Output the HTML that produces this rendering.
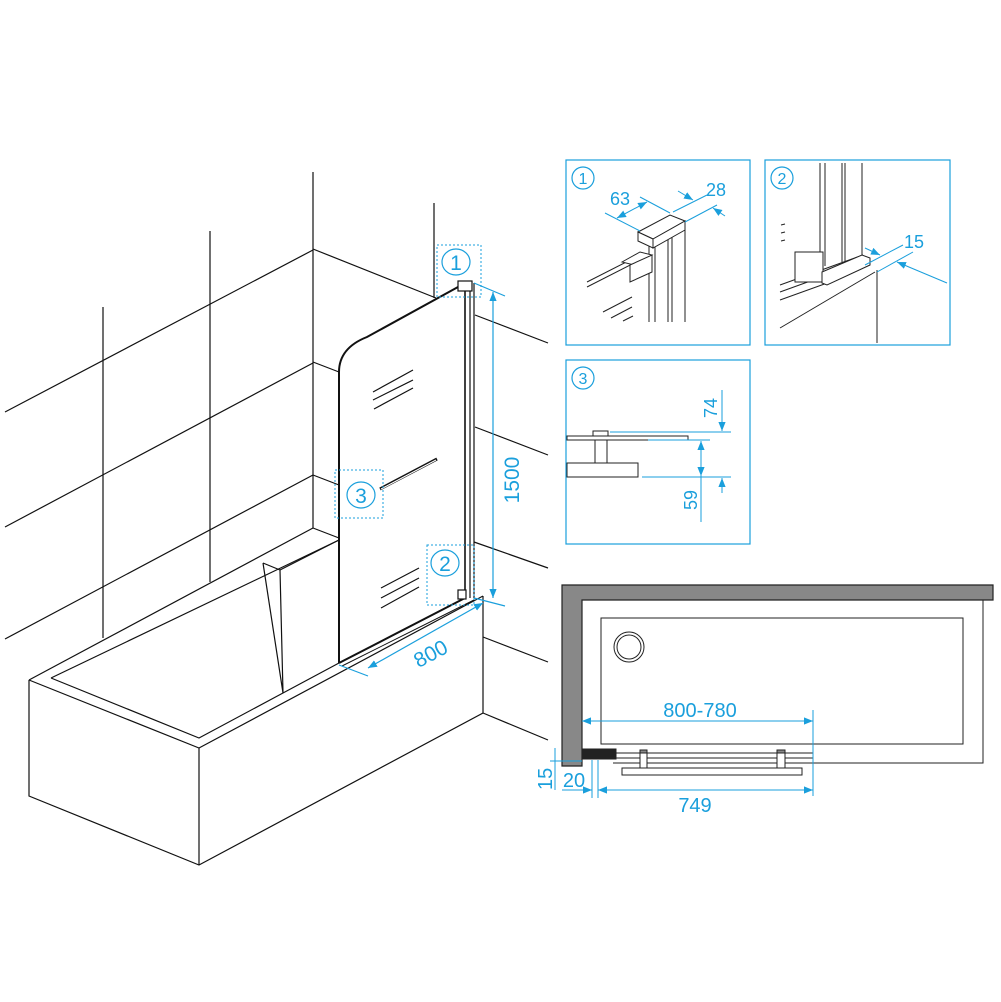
<!DOCTYPE html>
<html><head><meta charset="utf-8"><style>html,body{margin:0;padding:0;background:#fff}svg{display:block}</style></head><body>
<svg width="1001" height="1002" viewBox="0 0 1001 1002" xmlns="http://www.w3.org/2000/svg" font-family="Liberation Sans, sans-serif">
<defs>
<marker id="a" viewBox="0 0 10 10" refX="10" refY="5" markerWidth="9" markerHeight="9" orient="auto-start-reverse" markerUnits="userSpaceOnUse"><path d="M0,1 L10,5 L0,9 z" fill="#1a9fdc"/></marker>
</defs>
<g stroke="#111" stroke-width="1.2" fill="none">
<line x1="5" y1="412" x2="313" y2="250"/><line x1="5" y1="527" x2="313" y2="363"/><line x1="5" y1="639" x2="313" y2="475"/>
<line x1="103" y1="307" x2="103" y2="638"/><line x1="210" y1="231" x2="210" y2="582"/><line x1="313" y1="172" x2="313" y2="528"/><line x1="434" y1="203" x2="434" y2="298"/>
<line x1="313" y1="249" x2="436" y2="298"/><line x1="313" y1="362" x2="339" y2="372"/><line x1="313" y1="475" x2="339" y2="485"/>
<line x1="475" y1="315" x2="548" y2="343"/><line x1="475" y1="427" x2="548" y2="455"/><line x1="474" y1="542" x2="548" y2="568"/><line x1="483" y1="637" x2="548" y2="662"/><line x1="483" y1="713" x2="548" y2="740"/>
<polyline points="29,680 29,796 199,865 483,713 483,596"/>
<polyline points="29,680 199,748 483,596"/>
<line x1="199" y1="748" x2="199" y2="865"/>
<line x1="29" y1="680" x2="313" y2="528"/><line x1="313" y1="528" x2="339" y2="538"/>
<polyline points="51,678 199,738 283,693 339,663"/>
<line x1="51" y1="678" x2="339" y2="540"/>
<polyline points="263,563 283,693 280,570 263,563"/><line x1="280" y1="570" x2="339" y2="540"/>
<path d="M339,663 L339,372 Q339,348 367,337 L458,287" stroke-width="2"/>
<line x1="339" y1="663" x2="465" y2="598" stroke-width="2"/><line x1="342" y1="666" x2="474" y2="600" stroke-width="1"/>
<line x1="465" y1="283" x2="465" y2="598" stroke-width="1.6"/><line x1="470" y1="283" x2="470" y2="598"/><line x1="474" y1="283" x2="474" y2="598"/>
<rect x="458" y="281" width="14" height="10" fill="#fff"/>
<rect x="458" y="590" width="8" height="9" fill="#fff"/>
<line x1="373" y1="392" x2="413" y2="370"/><line x1="373" y1="400" x2="413" y2="380"/><line x1="374" y1="409" x2="413" y2="388"/>
<line x1="381" y1="588" x2="419" y2="568"/><line x1="381" y1="598" x2="419" y2="578"/><line x1="381" y1="608" x2="419" y2="587"/>
<line x1="380" y1="489" x2="437" y2="459" stroke-width="3"/><line x1="381" y1="489" x2="436" y2="460" stroke="#fff" stroke-width="1"/>
</g>
<g stroke="#1a9fdc" fill="none" stroke-width="1" stroke-dasharray="2,2">
<rect x="437" y="245" width="44" height="52"/><rect x="335" y="470" width="48" height="48"/><rect x="427" y="545" width="47" height="60"/>
</g>
<g stroke="#1a9fdc" fill="none" stroke-width="1.2">
<ellipse cx="456" cy="262" rx="14" ry="13"/><ellipse cx="361" cy="495" rx="14" ry="13"/><ellipse cx="445" cy="563" rx="14" ry="13"/>
<line x1="493" y1="292" x2="493" y2="598" marker-start="url(#a)" marker-end="url(#a)"/>
<line x1="474" y1="283" x2="505" y2="296"/><line x1="474" y1="598" x2="505" y2="606"/>
<line x1="368" y1="668" x2="483" y2="603" marker-start="url(#a)" marker-end="url(#a)"/>
<line x1="339" y1="665" x2="368" y2="676"/>
</g>
<g fill="#1a9fdc" font-size="21">
<text x="456" y="270" text-anchor="middle">1</text><text x="361" y="503" text-anchor="middle">3</text><text x="445" y="571" text-anchor="middle">2</text>
<text transform="translate(519,480) rotate(-90)" text-anchor="middle">1500</text>
<text transform="translate(434,660) rotate(-28)" text-anchor="middle">800</text>
</g>
<g stroke="#1a9fdc" fill="none" stroke-width="1.2">
<rect x="566" y="160" width="184" height="185"/><rect x="765" y="160" width="185" height="185"/><rect x="566" y="360" width="184" height="184"/>
<circle cx="583" cy="178" r="11"/><circle cx="782" cy="178" r="11"/><circle cx="583" cy="378" r="11"/>
</g>
<g fill="#1a9fdc" font-size="16" text-anchor="middle"><text x="583" y="184">1</text><text x="782" y="184">2</text><text x="583" y="384">3</text></g>
<g stroke="#222" fill="none" stroke-width="1">
<line x1="649" y1="240" x2="649" y2="322"/><line x1="655" y1="240" x2="655" y2="322"/><line x1="668" y1="235" x2="668" y2="322"/><line x1="672" y1="235" x2="672" y2="322"/><line x1="685" y1="222" x2="685" y2="322"/>
<line x1="587" y1="282" x2="640" y2="255"/><line x1="587" y1="287" x2="640" y2="260"/>
<polygon points="638,232 670,215 685,221 653,239" fill="#fff"/><polygon points="638,232 653,239 653,248 638,241" fill="#fff"/><polygon points="653,239 685,221 685,230 653,248" fill="#fff"/>
<polygon points="622,262 640,252 652,255 634,265" fill="#fff"/>
<polygon points="630,265 652,255 652,272 630,282" fill="#fff"/>
<line x1="603" y1="312" x2="632" y2="297"/><line x1="611" y1="318" x2="632" y2="307"/><line x1="623" y1="321" x2="633" y2="316"/>
</g>
<g stroke="#1a9fdc" fill="none" stroke-width="1">
<line x1="605" y1="213" x2="640" y2="231"/><line x1="640" y1="197" x2="670" y2="213"/>
<line x1="617" y1="218" x2="647" y2="202" marker-start="url(#a)" marker-end="url(#a)"/>
<line x1="673" y1="212" x2="707" y2="195"/><line x1="685" y1="222" x2="717" y2="205"/>
<line x1="678" y1="191" x2="693" y2="200" marker-end="url(#a)"/><line x1="725" y1="216" x2="713" y2="208" marker-end="url(#a)"/>
</g>
<g fill="#1a9fdc" font-size="18"><text x="610" y="205">63</text><text x="706" y="196">28</text><text x="904" y="248">15</text></g>
<g stroke="#222" fill="none" stroke-width="1">
<line x1="820" y1="163" x2="820" y2="268"/><line x1="825" y1="163" x2="825" y2="266"/><line x1="842" y1="163" x2="842" y2="262"/><line x1="845" y1="163" x2="845" y2="262"/><line x1="862" y1="163" x2="862" y2="255"/>
<line x1="780" y1="285" x2="863" y2="255"/><line x1="780" y1="292" x2="863" y2="262"/><line x1="780" y1="300" x2="830" y2="282"/>
<line x1="780" y1="328" x2="875" y2="272"/><line x1="877" y1="270" x2="877" y2="343"/>
<rect x="795" y="252" width="28" height="30" fill="#fff"/>
<polygon points="822,272 862,255 870,258 870,265 827,285 822,283" fill="#fff"/>
<line x1="781" y1="225" x2="785" y2="224"/><line x1="781" y1="233" x2="785" y2="232"/><line x1="781" y1="241" x2="785" y2="240"/>
</g>
<g stroke="#1a9fdc" fill="none" stroke-width="1">
<line x1="865" y1="265" x2="903" y2="245"/><line x1="877" y1="272" x2="913" y2="252"/>
<line x1="865" y1="248" x2="880" y2="255" marker-end="url(#a)"/><line x1="947" y1="283" x2="897" y2="262" marker-end="url(#a)"/>
</g>
<g stroke="#222" fill="none" stroke-width="1">
<rect x="567" y="436" width="121" height="4"/><rect x="593" y="431" width="15" height="5"/><rect x="595" y="440" width="12" height="23"/><rect x="567" y="463" width="71" height="14"/>
</g>
<g stroke="#1a9fdc" fill="none" stroke-width="1">
<line x1="610" y1="432" x2="731" y2="432"/><line x1="642" y1="477" x2="731" y2="477"/>
<line x1="722" y1="390" x2="722" y2="431" marker-end="url(#a)"/>
<line x1="701" y1="441" x2="701" y2="476" marker-start="url(#a)" marker-end="url(#a)"/><line x1="701" y1="476" x2="701" y2="522"/>
<line x1="722" y1="493" x2="722" y2="478" marker-end="url(#a)"/>
<line x1="648" y1="440" x2="710" y2="440"/>
</g>
<g fill="#1a9fdc" font-size="18"><text transform="translate(717,418) rotate(-90)">74</text><text transform="translate(697,510) rotate(-90)">59</text></g>
<path d="M562,585 H993 V600 H582 V766 H562 Z" fill="#888" stroke="#222" stroke-width="1.2"/>
<g stroke="#222" fill="none" stroke-width="1">
<polyline points="582,600 983,600 983,763 613,763"/>
<rect x="601" y="618" width="362" height="126"/>
<circle cx="629" cy="647" r="15"/><circle cx="629" cy="647" r="12"/>
<rect x="582" y="753" width="231" height="5"/>
<rect x="582" y="749" width="34" height="10" fill="#222"/>
<rect x="640" y="752" width="7" height="16" fill="#fff"/><rect x="777" y="752" width="8" height="16" fill="#fff"/>
<rect x="640" y="750" width="7" height="3" fill="#888"/><rect x="777" y="750" width="8" height="3" fill="#888"/>
<rect x="622" y="768" width="180" height="7"/>
</g>
<g stroke="#1a9fdc" fill="none" stroke-width="1">
<line x1="582" y1="721" x2="813" y2="721" marker-start="url(#a)" marker-end="url(#a)"/>
<line x1="813" y1="710" x2="813" y2="796"/>
<line x1="598" y1="790" x2="813" y2="790" marker-start="url(#a)" marker-end="url(#a)"/>
<line x1="592" y1="760" x2="592" y2="798"/><line x1="598" y1="760" x2="598" y2="798"/>
<line x1="562" y1="790" x2="592" y2="790" marker-end="url(#a)"/>
<line x1="555" y1="748" x2="555" y2="790"/><line x1="550" y1="761" x2="582" y2="761"/>
</g>
<g fill="#1a9fdc" font-size="20"><text x="700" y="717" text-anchor="middle">800-780</text><text x="695" y="812" text-anchor="middle">749</text><text x="574" y="787" text-anchor="middle">20</text><text transform="translate(552,790) rotate(-90)">15</text></g>
</svg>
</body></html>
